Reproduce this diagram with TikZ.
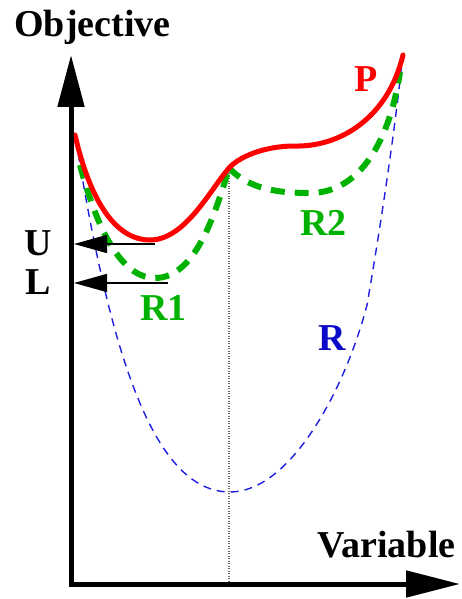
\documentclass[tikz,border=0pt]{standalone}
\usepackage{fontspec}
\setmainfont{Liberation Serif}
\usetikzlibrary{arrows.meta}
\definecolor{pred}{RGB}{255,0,0}
\definecolor{rgreen}{RGB}{0,178,0}
\definecolor{rblue}{RGB}{30,30,225}
\definecolor{tblue}{RGB}{10,10,200}
\begin{document}
\begin{tikzpicture}[x=1pt,y=-1pt,
  lbl/.style={font=\fontsize{38}{40}\selectfont\bfseries, inner sep=0pt, anchor=base},
  axisline/.style={line width=5pt, line join=miter, {Triangle[length=52pt,width=26pt]}-{Triangle[length=54pt,width=26pt]}},
  harrow/.style={line width=1.5pt, -{Triangle[length=33pt,width=18pt]}},
  pcurve/.style={pred, line width=5pt, line cap=round},
  rcurve/.style={rgreen, line width=6pt, dash pattern=on 14pt off 10pt},
  bcurve/.style={rblue, line width=1.4pt, dash pattern=on 8pt off 6pt},
  vdots/.style={gray!80!black, line width=1.1pt, dash pattern=on 1pt off 1.5pt}]
\useasboundingbox (0,0) rectangle (461,599);
% axes
\coordinate (ytip) at (71,55);
\coordinate (corner) at (71,584);
\coordinate (xtip) at (460,584);
% dotted vertical line
\coordinate (vtop) at (229,168);
\coordinate (vbot) at (229,584);
\draw[vdots] (vtop) -- (vbot);
% relaxation R (blue)
\draw[bcurve] (76,140) .. controls (108,340) and (150,492) .. (230,492)
  .. controls (290,492) and (345,390) .. (367,305)
  .. controls (380,230) and (395,130) .. (402,62);
% R1 and R2 (green)
\draw[rcurve] (80,165) .. controls (100,240) and (125,278) .. (155,278)
  .. controls (195,278) and (215,215) .. (229,168);
\draw[rcurve] (229,168) .. controls (250,190) and (280,193) .. (310,193)
  .. controls (360,193) and (390,140) .. (400,72);
% P (red)
\draw[pcurve] (75,135) .. controls (90,200) and (115,240) .. (150,240)
  .. controls (185,240) and (210,190) .. (229,168)
  .. controls (238,158) and (262,146) .. (295,146)
  .. controls (340,147) and (388,118) .. (403,55);
% axes on top
\draw[axisline] (ytip) -- (corner) -- (xtip);
% U and L arrows
\coordinate (us) at (155,244);
\coordinate (ue) at (74,244);
\coordinate (ls) at (168,283);
\coordinate (le) at (74,283);
\draw[harrow] (us) -- (ue);
\draw[harrow] (ls) -- (le);
% labels
\node[lbl] (obj) at (92.5,37) {Objective};
\node[lbl] (var) at (386.5,557) {Variable};
\node[lbl] (U) at (38.5,255) {U};
\node[lbl] (L) at (38.5,294) {L};
\node[lbl, text=pred] (P) at (366,92) {P};
\node[lbl, text=rgreen] (R2) at (323.5,235) {R2};
\node[lbl, text=rgreen] (R1) at (163.5,320) {R1};
\node[lbl, text=tblue] (R) at (332.5,350) {R};
\end{tikzpicture}
\end{document}
